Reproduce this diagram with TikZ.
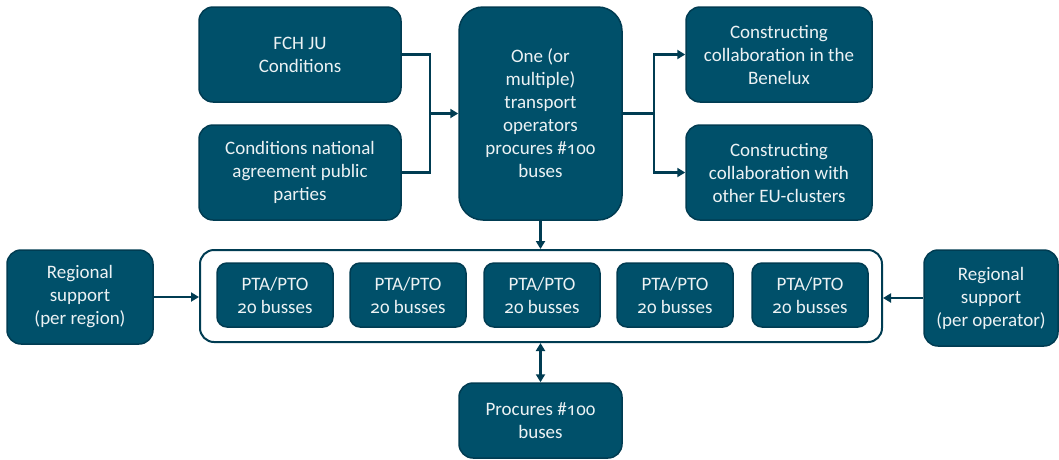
\documentclass[tikz,border=0pt]{standalone}
\usepackage{fontspec}
\setmainfont{Carlito}
\newfontfamily\osnum{Noto Sans}[Numbers=OldStyle,Scale=0.92]
\newcommand{\onum}[1]{{\osnum #1}}
\usetikzlibrary{arrows.meta}
\definecolor{boxfill}{RGB}{0,80,106}
\definecolor{boxline}{RGB}{0,60,82}
\definecolor{txt}{RGB}{236,242,244}
\tikzset{
  box/.style={draw=boxline, line width=1.5pt, fill=boxfill, rounded corners=14pt,
    text=txt, align=center, inner sep=2pt, font=\fontsize{19}{23}\selectfont},
  ptabox/.style={box, rounded corners=10pt},
  cont/.style={draw=boxline, line width=2pt, fill=white, rounded corners=14pt},
  conn/.style={draw=boxline, line width=2.5pt},
  arr/.style={conn, -{Triangle[length=8pt,width=9pt]}},
  darr/.style={conn, {Triangle[length=8pt,width=9pt]}-{Triangle[length=8pt,width=9pt]}},
}
\begin{document}
\begin{tikzpicture}[x=1pt,y=-1pt]
\useasboundingbox (0,0) rectangle (1059,459);
\node[box, minimum width=202pt, minimum height=95pt] (fch) at (300,54.5) {FCH JU\\Conditions};
\node[box, minimum width=202pt, minimum height=95pt] (cond) at (300,172.5) {Conditions national\\agreement public\\parties};
\node[box, rounded corners=24pt, minimum width=163pt, minimum height=213pt] (one) at (540.5,113.5) {One (or\\multiple)\\transport\\operators\\procures \#\onum{100}\\buses};
\node[box, minimum width=186pt, minimum height=95pt] (ben) at (779,54.5) {Constructing\\collaboration in the\\Benelux};
\node[box, minimum width=186pt, minimum height=95pt] (eu) at (779,172.5) {Constructing\\collaboration with\\other EU-clusters};
\node[cont, minimum width=682pt, minimum height=92pt] (ct) at (541,296) {};
\foreach \i/\x in {1/275,2/408,3/542,4/675,5/810}{
  \node[ptabox, minimum width=116pt, minimum height=64pt] (p\i) at (\x,295) {PTA/PTO\\\onum{20} busses};
}
\node[box, minimum width=146pt, minimum height=94pt] (regl) at (80,297) {Regional\\support\\(per region)};
\node[box, minimum width=134pt, minimum height=96pt] (regr) at (991,298) {Regional\\support\\(per operator)};
\node[box, minimum width=163pt, minimum height=75pt] (proc) at (540.5,420.5) {Procures \#\onum{100}\\buses};
\coordinate (j1) at (430,113.5);
\coordinate (j2) at (654,113.5);
\draw[conn] (fch.east) -| (j1);
\draw[conn] (cond.east) -| (j1);
\draw[arr] (j1) -- (one.west);
\draw[conn] (one.east) -- (j2);
\draw[arr] (j2) |- (ben.west);
\draw[arr] (j2) |- (eu.west);
\draw[arr] (one.south) -- (one.south |- ct.north);
\draw[arr] (regl.east) -- (regl.east -| ct.west);
\draw[arr] (regr.west) -- (regr.west -| ct.east);
\draw[darr] (ct.south -| proc.north) -- (proc.north);
\end{tikzpicture}
\end{document}
